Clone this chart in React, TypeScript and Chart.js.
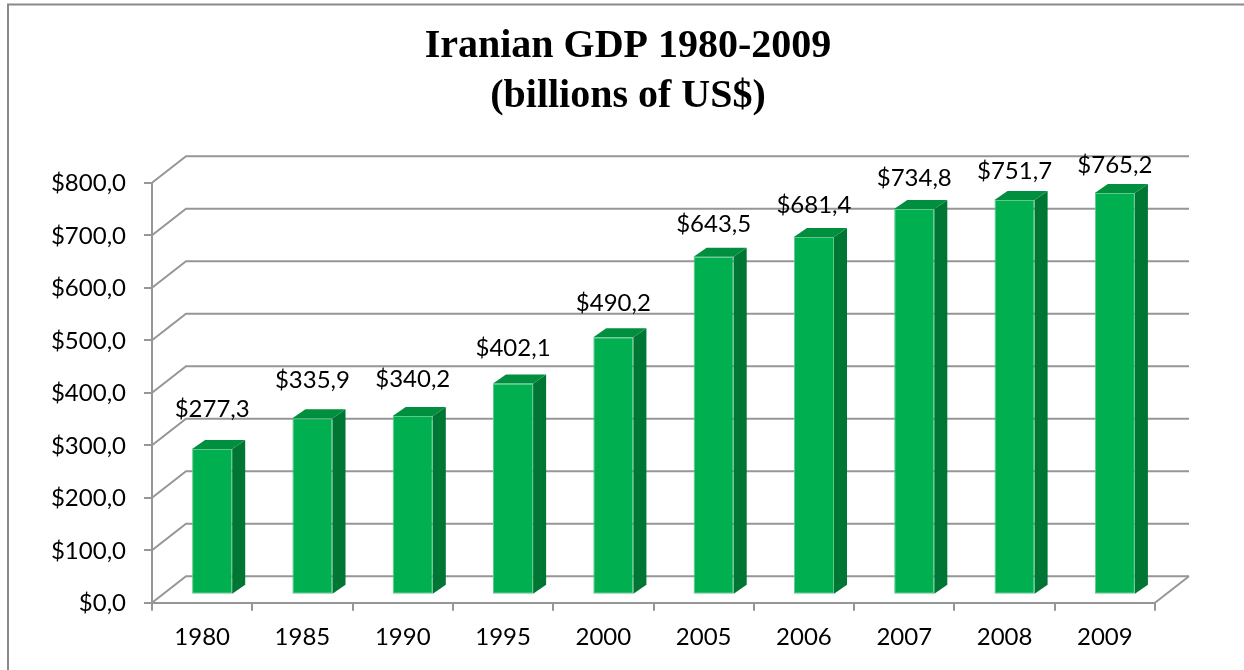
import React, { useEffect, useRef } from 'react';
import { Chart, registerables } from 'chart.js';

Chart.register(...registerables);

const categories = ['1980', '1985', '1990', '1995', '2000', '2005', '2006', '2007', '2008', '2009'];
const gdpValues = [277.3, 335.9, 340.2, 402.1, 490.2, 643.5, 681.4, 734.8, 751.7, 765.2];
const yTickLabels = ['$0,0', '$100,0', '$200,0', '$300,0', '$400,0', '$500,0', '$600,0', '$700,0', '$800,0'];
const titleLines = ['Iranian GDP 1980-2009', '(billions of US$)'];

const fmt = (v: number) => '$' + v.toFixed(1).replace('.', ',');

const FONT = 'Lato';
const FONT_SIZE = 24;
const GRID = '#969696';
const WALL_DX = 34;
const WALL_DY = -26.5;
const BAR_DX = 10;
const BAR_DY = -8;
const SIDE_DX = 13;
const SIDE_DY = -9;
const FRONT = '#00B050';
const SIDE = '#007635';
const TOP = '#008F3E';

const threeD = {
  id: 'threeD',
  beforeDraw(chart: any) {
    const { ctx, width, height } = chart;
    ctx.save();
    ctx.strokeStyle = '#8a8a8a';
    ctx.lineWidth = 2;
    ctx.beginPath();
    ctx.moveTo(8, height);
    ctx.lineTo(8, 4.5);
    ctx.lineTo(width, 4.5);
    ctx.stroke();
    ctx.restore();
  },
  beforeDatasetsDraw(chart: any) {
    const { ctx, chartArea: a, scales } = chart;
    const y = scales.y;
    ctx.save();
    ctx.strokeStyle = GRID;
    ctx.lineWidth = 2;
    y.ticks.forEach((t: any) => {
      const py = y.getPixelForValue(t.value);
      ctx.beginPath();
      ctx.moveTo(a.left, py);
      ctx.lineTo(a.left + WALL_DX, py + WALL_DY);
      ctx.lineTo(a.right + WALL_DX, py + WALL_DY);
      ctx.stroke();
    });
    ctx.beginPath();
    ctx.moveTo(a.right, a.bottom);
    ctx.lineTo(a.right + WALL_DX, a.bottom + WALL_DY);
    ctx.stroke();
    ctx.restore();
    ctx.save();
    ctx.translate(BAR_DX, BAR_DY);
  },
  afterDatasetsDraw(chart: any) {
    const { ctx, chartArea: a } = chart;
    const meta = chart.getDatasetMeta(0);
    meta.data.forEach((el: any) => {
      const { x, y, base, width } = el.getProps(['x', 'y', 'base', 'width'], true);
      const l = x - width / 2;
      const r = x + width / 2;
      ctx.fillStyle = SIDE;
      ctx.beginPath();
      ctx.moveTo(r, y);
      ctx.lineTo(r + SIDE_DX, y + SIDE_DY);
      ctx.lineTo(r + SIDE_DX, base + SIDE_DY);
      ctx.lineTo(r, base);
      ctx.closePath();
      ctx.fill();
      ctx.fillStyle = TOP;
      ctx.beginPath();
      ctx.moveTo(l, y);
      ctx.lineTo(l + SIDE_DX, y + SIDE_DY);
      ctx.lineTo(r + SIDE_DX, y + SIDE_DY);
      ctx.lineTo(r, y);
      ctx.closePath();
      ctx.fill();
    });
    ctx.restore();
    ctx.save();
    ctx.fillStyle = '#000';
    ctx.font = `${FONT_SIZE}px ${FONT}`;
    ctx.textAlign = 'center';
    ctx.textBaseline = 'alphabetic';
    meta.data.forEach((el: any, i: number) => {
      const { x, y } = el.getProps(['x', 'y'], true);
      const frac = (x - a.left) / (a.right - a.left);
      const gap = 32 - 12 * (frac - 0.05) / 0.9;
      ctx.fillText(fmt(gdpValues[i]), x + BAR_DX, y + BAR_DY - gap);
    });
    ctx.restore();
  },
};

export default function App() {
  const ref = useRef<HTMLCanvasElement>(null);
  useEffect(() => {
    if (!ref.current) return;
    const chart = new Chart(ref.current, {
      type: 'bar',
      data: {
        labels: categories,
        datasets: [
          {
            data: gdpValues,
            backgroundColor: FRONT,
            borderColor: '#5fc98d',
            borderWidth: 1,
            borderSkipped: false,
            categoryPercentage: 1,
            barPercentage: 0.4,
            clip: false as any,
          },
        ],
      },
      options: {
        animation: false,
        responsive: true,
        maintainAspectRatio: false,
        layout: { padding: { left: 12, right: 0, top: 0, bottom: 0 } },
        plugins: {
          legend: { display: false },
          tooltip: { enabled: false },
          title: {
            display: true,
            text: titleLines,
            color: '#000',
            font: { family: 'Liberation Serif', size: 40, weight: 'bold', lineHeight: 1.25 },
            padding: { top: 22, bottom: 60.7 },
          },
        },
        scales: {
          x: {
            grid: { display: true, drawOnChartArea: false, drawTicks: true, tickLength: 8, color: GRID, lineWidth: 2, offset: true },
            border: { display: true, color: GRID, width: 2 },
            ticks: { color: '#000', font: { family: FONT, size: FONT_SIZE }, padding: 12, autoSkip: false, maxRotation: 0 },
            afterFit: (s: any) => { s.height = 67.3; },
          },
          y: {
            min: 0,
            max: 800,
            grid: { display: true, drawOnChartArea: false, drawTicks: true, tickLength: 8, color: GRID, lineWidth: 2 },
            border: { display: true, color: GRID, width: 2 },
            ticks: {
              stepSize: 100,
              color: '#000',
              font: { family: FONT, size: FONT_SIZE },
              padding: 18,
              labelOffset: 1,
              callback: (v: any) => yTickLabels[Math.round(Number(v) / 100)],
            },
            afterFit: (s: any) => { s.width = 140; },
          },
          yR: {
            type: 'linear',
            position: 'right',
            display: true,
            grid: { display: false },
            border: { display: false },
            ticks: { display: false },
            afterFit: (s: any) => { s.width = 89; },
          },
        },
      },
      plugins: [threeD],
    });
    return () => chart.destroy();
  }, []);
  return (
    <div style={{ position: 'absolute', left: 0, top: 0, width: 1244, height: 670 }}>
      <canvas ref={ref} />
    </div>
  );
}
